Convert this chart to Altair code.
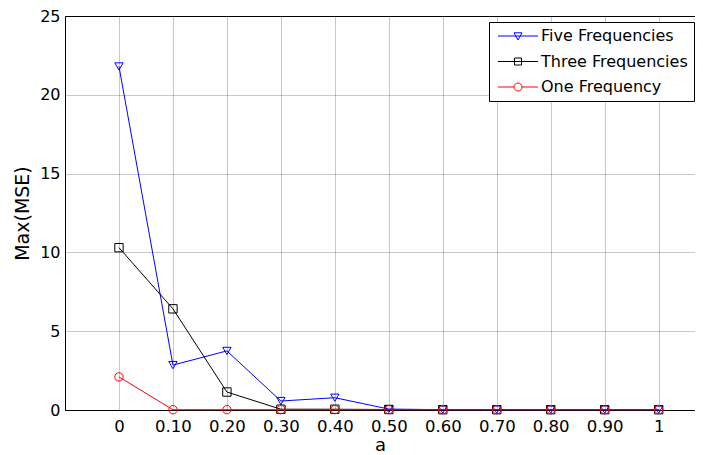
import altair as alt
import pandas as pd

a_values = [0.0, 0.1, 0.2, 0.3, 0.4, 0.5, 0.6, 0.7, 0.8, 0.9, 1.0]
five = [21.8, 2.85, 3.75, 0.57, 0.78, 0.06, 0.02, 0.02, 0.02, 0.02, 0.02]
three = [10.3, 6.42, 1.14, 0.05, 0.05, 0.03, 0.02, 0.02, 0.02, 0.02, 0.02]
one = [2.1, 0.02, 0.02, 0.02, 0.02, 0.02, 0.02, 0.02, 0.02, 0.02, 0.02]
series_names = ["Five Frequencies", "Three Frequencies", "One Frequency"]
series_colors = ["#0000ff", "#000000", "#ff0000"]
series_shapes = ["triangle-down", "square", "circle"]
x_ticks = [0.0, 0.1, 0.2, 0.3, 0.4, 0.5, 0.6, 0.7, 0.8, 0.9, 1.0]
y_ticks = [0, 5, 10, 15, 20, 25]

rows = []
for name, vals in zip(series_names, [five, three, one]):
    for a, v in zip(a_values, vals):
        rows.append({"a": a, "value": v, "series": name})
df = pd.DataFrame(rows)

FONT = "DejaVu Sans"
xdom = [-0.1, 1.0673]
xscale = alt.Scale(domain=xdom, nice=False, zero=False)
yscale = alt.Scale(domain=[0, 25], nice=False)

x_axis = alt.Axis(values=x_ticks, title="a", ticks=False, grid=True, labelFontSize=16.5,
                  labelExpr="datum.value == 0 ? '0' : (datum.value == 1 ? '1' : format(datum.value, '.2f'))",
                  labelPadding=8, titlePadding=2, titleFontSize=18)
y_axis = alt.Axis(values=y_ticks, title="Max(MSE)", ticks=False, grid=True, labelFontSize=16,
                  labelPadding=5, titlePadding=7)

# legend symbols: a line with the marker in the middle (unit coords, scaled by sqrt(size)/2 = 5px)
k = 0.44
legend_paths = [
    "M-4,0L4,0M-0.8,-0.64L0.8,-0.64L0,0.8Z",
    "M-4,0L4,0M-0.7,-0.7L0.7,-0.7L0.7,0.7L-0.7,0.7Z",
    f"M-4,0L-0.8,0M0.8,0L4,0M0.8,0C0.8,{k},{k},0.8,0,0.8C-{k},0.8,-0.8,{k},-0.8,0C-0.8,-{k},-{k},-0.8,0,-0.8C{k},-0.8,0.8,-{k},0.8,0Z",
]

base = alt.Chart(df)
layers = []
first = True
for name, col, shp in zip(series_names, series_colors, series_shapes):
    sub = base.transform_filter(alt.datum.series == name)
    xa = x_axis if first else None
    first = False
    line = sub.mark_line(color=col, strokeWidth=1).encode(
        x=alt.X("a:Q", scale=xscale, axis=xa),
        y=alt.Y("value:Q", scale=yscale, axis=y_axis),
    )
    pts = sub.mark_point(shape=shp, filled=False, size=70, strokeWidth=1, color=col, opacity=1).encode(
        x=alt.X("a:Q", scale=xscale, axis=None),
        y=alt.Y("value:Q", scale=yscale, axis=y_axis),
    )
    layers += [line, pts]

legend = alt.Legend(orient="none", legendX=424, legendY=6, title=None,
                    labelFont=FONT, labelFontSize=16, labelColor="black",
                    strokeColor="black", fillColor="white", padding=6, rowPadding=9.5,
                    symbolSize=100, symbolStrokeWidth=1, symbolOpacity=1,
                    symbolOffset=15, labelOffset=15, labelLimit=400)

dummy = base.mark_point(filled=False, opacity=0, strokeWidth=1).encode(
    x=alt.X("a:Q", scale=xscale,
            axis=alt.Axis(orient="top", labels=False, ticks=False, grid=False, domain=True, title=None)),
    y=alt.Y("value:Q", scale=yscale, axis=y_axis),
    color=alt.Color("series:N", scale=alt.Scale(domain=series_names, range=series_colors), legend=legend),
    shape=alt.Shape("series:N", scale=alt.Scale(domain=series_names, range=legend_paths), legend=legend),
)
layers.append(dummy)

chart = alt.layer(*layers).resolve_axis(x="independent").properties(
    width=630, height=394,
    autosize=alt.AutoSizeParams(type="none"),
    padding={"left": 57, "top": 8, "right": 0, "bottom": 45},
).configure_view(stroke=None).configure_axis(
    labelFont=FONT, labelFontSize=17, labelColor="black",
    titleFont=FONT, titleFontSize=19, titleFontWeight="normal", titleColor="black",
    domainColor="black", domainWidth=1,
    gridColor="#333333", gridDash=[1, 1], gridWidth=1, gridOpacity=0.55,
)

chart.save("out.html", embed_options={"renderer": "svg", "actions": False})
